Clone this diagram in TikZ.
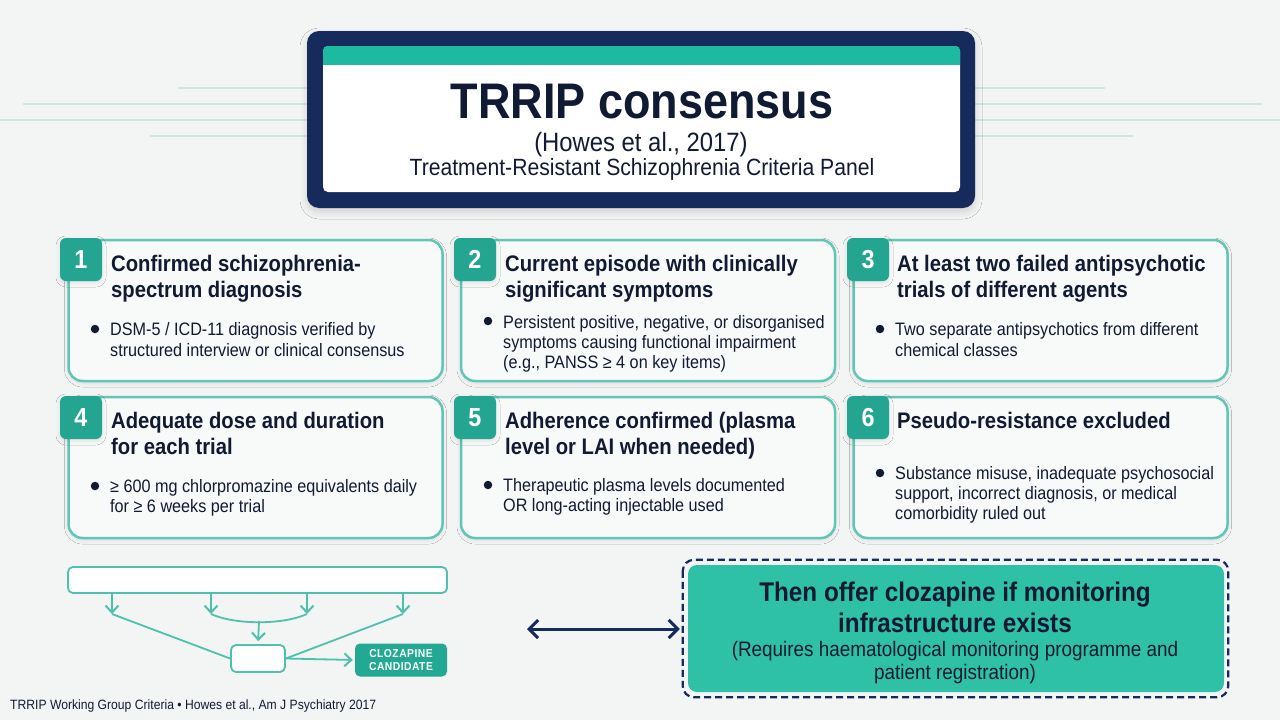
\documentclass[tikz,border=0pt]{standalone}
\usepackage{fontspec}
\setmainfont{Liberation Sans}[FakeStretch=0.9]
\usetikzlibrary{shadows.blur,arrows.meta,calc}
\definecolor{bgc}{HTML}{F3F4F4}
\definecolor{navy}{HTML}{172A5C}
\definecolor{ink}{HTML}{111A33}
\definecolor{band}{HTML}{1DB9A0}
\definecolor{cardline}{HTML}{62C5B6}
\definecolor{cardfill}{HTML}{F8F9F9}
\definecolor{badgec}{HTML}{24A591}
\definecolor{bigfill}{HTML}{2FC0A8}
\definecolor{candc}{HTML}{22A893}
\definecolor{bgline}{HTML}{CCE6E2}
\definecolor{flowc}{HTML}{4FC0AE}
\begin{document}
\begin{tikzpicture}[x=1pt,y=-1pt,
  softshadow/.style={blur shadow={shadow xshift=0pt,shadow yshift=-2pt,shadow opacity=10,shadow blur radius=4pt}},
  card/.style={draw=cardline,line width=2.5pt,fill=cardfill,rounded corners=14pt,minimum width=374pt,minimum height=141pt,inner sep=0pt,softshadow},
  badge/.style={fill=badgec,rounded corners=6pt,minimum width=42pt,minimum height=43pt,inner sep=0pt,text=white,font=\fontsize{26}{30}\selectfont\bfseries,softshadow},
  ctitle/.style={anchor=base west,inner sep=0pt,text=ink,font=\fontsize{22.5}{26}\selectfont\bfseries},
  cbody/.style={anchor=base west,inner sep=0pt,text=ink,font=\fontsize{18}{21}\selectfont},
  dot/.style={circle,fill=ink,minimum size=8.5pt,inner sep=0pt},
  bgl/.style={draw=bgline,line width=2pt},
  flow/.style={draw=flowc,line width=1.8pt},
  flowarrow/.style={flow,-{Straight Barb[length=7pt,width=13pt,line width=2pt]}},
  bigtext/.style={anchor=base,inner sep=0pt,text=ink,font=\fontsize{27}{31}\selectfont\bfseries},
  bigsub/.style={anchor=base,inner sep=0pt,text=ink,font=\fontsize{21}{24}\selectfont}
]
\useasboundingbox (0,0) rectangle (1280,720);
\fill[bgc] (0,0) rectangle (1280,720);

% background lines
\draw[bgl] (178,88) -- (307,88);
\draw[bgl] (23,104) -- (307,104);
\draw[bgl] (0,120) -- (307,120);
\draw[bgl] (150,136) -- (307,136);
\draw[bgl] (975,88) -- (1105,88);
\draw[bgl] (975,104) -- (1262,104);
\draw[bgl] (975,120) -- (1280,120);
\draw[bgl] (975,136) -- (1133,136);

% header
\node[fill=navy,rounded corners=12pt,minimum width=668pt,minimum height=177pt,inner sep=0pt,
      blur shadow={shadow xshift=0pt,shadow yshift=-4pt,shadow opacity=14,shadow blur radius=7pt}] (hdr) at (641,119.5) {};
\node[fill=white,rounded corners=5pt,minimum width=637pt,minimum height=146pt,inner sep=0pt] (hdrin) at (641.5,119) {};
\begin{scope}
  \clip[rounded corners=5pt] (hdrin.north west) rectangle (hdrin.south east);
  \fill[band] (hdrin.north west) rectangle ([yshift=-19pt]hdrin.north east);
\end{scope}
\node[anchor=base,inner sep=0pt,text=ink,font=\fontsize{50}{60}\selectfont\bfseries] (title) at (642,118) {TRRIP consensus};
\node[anchor=base,inner sep=0pt,text=ink,font=\fontsize{26.5}{30}\selectfont] (sub) at (641,151) {(Howes et al., 2017)};
\node[anchor=base,inner sep=0pt,text=ink,font=\fontsize{23.5}{27}\selectfont] (panel) at (642,175) {Treatment-Resistant Schizophrenia Criteria Panel};

% cards
\node[card] (c1) at (255.5,310.5) {};
\node[card] (c2) at (648,310.5) {};
\node[card] (c3) at (1040.5,310.5) {};
\node[card] (c4) at (255.5,467.5) {};
\node[card] (c5) at (648,467.5) {};
\node[card] (c6) at (1040.5,467.5) {};

\node[badge] (b1) at (81,259.5) {1};
\node[badge] (b2) at (475,259.5) {2};
\node[badge] (b3) at (868,259.5) {3};
\node[badge] (b4) at (81,417.5) {4};
\node[badge] (b5) at (475,417.5) {5};
\node[badge] (b6) at (868,417.5) {6};

% card 1
\node[ctitle] (c1t1) at (111,271) {Confirmed schizophrenia-};
\node[ctitle] (c1t2) at (111,297) {spectrum diagnosis};
\node[dot] (c1d) at (95,329) {};
\node[cbody] (c1l1) at (110,335) {DSM-5 / ICD-11 diagnosis verified by};
\node[cbody] (c1l2) at (110,356) {structured interview or clinical consensus};
% card 2
\node[ctitle] (c2t1) at (505,271) {Current episode with clinically};
\node[ctitle] (c2t2) at (505,297) {significant symptoms};
\node[dot] (c2d) at (488,321) {};
\node[cbody] (c2l1) at (503,328) {Persistent positive, negative, or disorganised};
\node[cbody] (c2l2) at (503,348) {symptoms causing functional impairment};
\node[cbody] (c2l3) at (503,368) {(e.g., PANSS ≥ 4 on key items)};
% card 3
\node[ctitle] (c3t1) at (897,271) {At least two failed antipsychotic};
\node[ctitle] (c3t2) at (897,297) {trials of different agents};
\node[dot] (c3d) at (880,329) {};
\node[cbody] (c3l1) at (895,335) {Two separate antipsychotics from different};
\node[cbody] (c3l2) at (895,356) {chemical classes};
% card 4
\node[ctitle] (c4t1) at (111,428) {Adequate dose and duration};
\node[ctitle] (c4t2) at (111,454) {for each trial};
\node[dot] (c4d) at (95,486) {};
\node[cbody] (c4l1) at (110,492) {≥ 600 mg chlorpromazine equivalents daily};
\node[cbody] (c4l2) at (110,512) {for ≥ 6 weeks per trial};
% card 5
\node[ctitle] (c5t1) at (505,428) {Adherence confirmed (plasma};
\node[ctitle] (c5t2) at (505,454) {level or LAI when needed)};
\node[dot] (c5d) at (488,485) {};
\node[cbody] (c5l1) at (503,491) {Therapeutic plasma levels documented};
\node[cbody] (c5l2) at (503,511) {OR long-acting injectable used};
% card 6
\node[ctitle] (c6t1) at (897,428) {Pseudo-resistance excluded};
\node[dot] (c6d) at (880,473) {};
\node[cbody] (c6l1) at (895,479) {Substance misuse, inadequate psychosocial};
\node[cbody] (c6l2) at (895,499) {support, incorrect diagnosis, or medical};
\node[cbody] (c6l3) at (895,519) {comorbidity ruled out};

% flow diagram
\node[flow,fill=white,rounded corners=5pt,minimum width=379pt,minimum height=26pt,inner sep=0pt] (flowtop) at (257.5,580) {};
\node[flow,fill=white,rounded corners=5pt,minimum width=54pt,minimum height=27pt,inner sep=0pt] (mid) at (258,658.5) {};
\node[fill=candc,rounded corners=5pt,minimum width=92pt,minimum height=33pt,inner sep=0pt,text=white,align=center,
      font=\fontsize{11.5}{13.5}\selectfont\bfseries] (cand) at (401,660) {\addfontfeatures{LetterSpace=4}CLOZAPINE\\\addfontfeatures{LetterSpace=4}CANDIDATE};
\coordinate (a1) at (112,614);
\coordinate (a2) at (211,614);
\coordinate (a3) at (307,614);
\coordinate (a4) at (403,614);
\coordinate (cm) at (259,621);
\draw[flowarrow] (flowtop.south -| a1) -- (a1);
\draw[flowarrow] (flowtop.south -| a2) -- (a2);
\draw[flowarrow] (flowtop.south -| a3) -- (a3);
\draw[flowarrow] (flowtop.south -| a4) -- (a4);
\draw[flow] (a1) -- (mid.west);
\draw[flow] (a4) -- (mid.east);
\draw[flow] (a2) .. controls (235,625) and (283,625) .. (a3);
\draw[flowarrow,shorten >=3pt] (cm) -- (mid.north);
\draw[flowarrow,shorten >=2pt] (mid.east) -- (cand.west);

% footer
\node[anchor=base west,inner sep=0pt,text=ink,font=\fontsize{13.5}{15}\selectfont] (foot) at (10,709) {TRRIP Working Group Criteria • Howes et al., Am J Psychiatry 2017};

% big box
\node[fill=bigfill,rounded corners=9pt,minimum width=536pt,minimum height=127pt,inner sep=0pt] (big) at (956,628.5) {};
\draw[navy,line width=2.2pt,dash pattern=on 7pt off 4pt,rounded corners=11pt]
  ([shift={(-5,-5)}]big.north west) rectangle ([shift={(4,5)}]big.south east);
\coordinate (dl) at (527,629);
\draw[navy,line width=3pt,{Straight Barb[length=9pt,width=18pt,line width=3pt]}-{Straight Barb[length=9pt,width=18pt,line width=3pt]},shorten >=8pt]
  (dl) -- (big.west |- dl);
\node[bigtext] (bt1) at (955,601) {Then offer clozapine if monitoring};
\node[bigtext] (bt2) at (955,632) {infrastructure exists};
\node[bigsub] (bs1) at (955,656) {(Requires haematological monitoring programme and};
\node[bigsub] (bs2) at (955,679) {patient registration)};
\end{tikzpicture}
\end{document}
